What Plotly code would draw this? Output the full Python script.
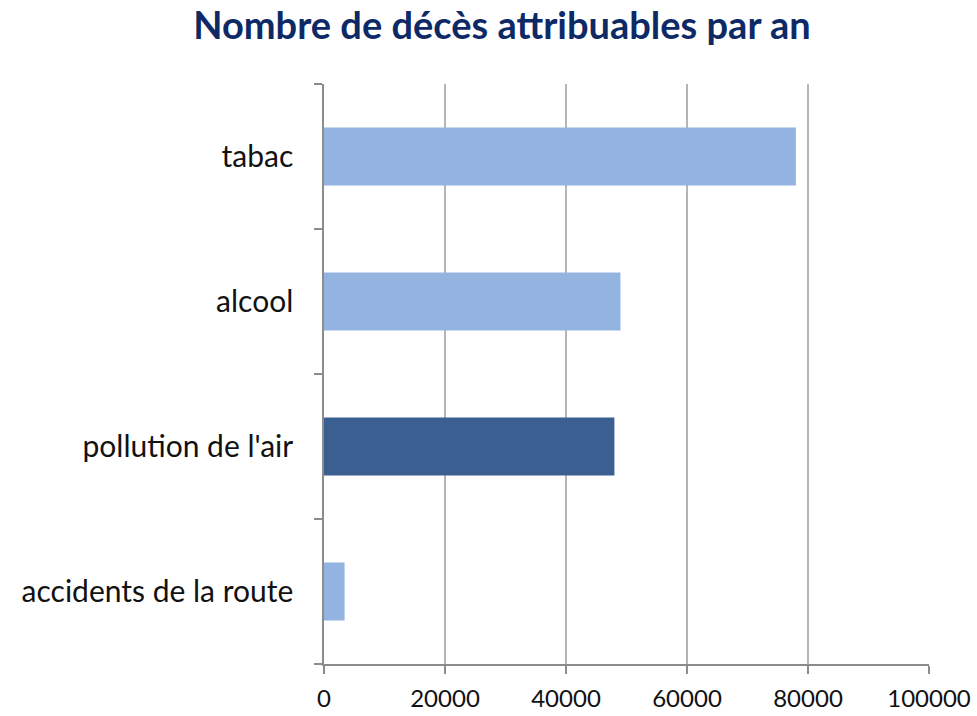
import plotly.graph_objects as go

title = "Nombre de décès attribuables par an"
categories = ["tabac", "alcool", "pollution de l'air", "accidents de la route"]
deaths = [78000, 49000, 48000, 3400]
highlight = "pollution de l'air"
x_ticks = [0, 20000, 40000, 60000, 80000, 100000]

light = "#93B4E0"
dark = "#3C5F91"
colors = [dark if c == highlight else light for c in categories]

fig = go.Figure(go.Bar(
    x=deaths, y=categories, orientation="h",
    marker=dict(color=colors, line=dict(width=0)),
))

fig.update_layout(
    width=977, height=716,
    paper_bgcolor="white", plot_bgcolor="white",
    margin=dict(l=324, r=48, t=84, b=52, autoexpand=False),
    bargap=0.6,
    showlegend=False,
    title=dict(text="<b>" + title + "</b>", x=502 / 977, xanchor="center",
               y=1 - 26 / 716, yanchor="middle",
               font=dict(family="Lato", size=38, color="#0E2A66")),
    font=dict(family="Lato", size=25, color="#111111"),
)

fig.update_xaxes(
    range=[0, 100000], tickvals=x_ticks, ticktext=[str(v) for v in x_ticks],
    showgrid=True, gridcolor="#B5B5B5", gridwidth=2,
    showline=True, linecolor="#8C8C8C", linewidth=1.5,
    ticks="outside", ticklen=8, tickcolor="#8C8C8C", tickwidth=1.5,
    zeroline=False, tickfont=dict(size=24), ticklabelstandoff=4,
)
fig.update_yaxes(
    type="category", categoryorder="array", categoryarray=categories[::-1],
    tickson="boundaries", ticks="outside", ticklen=8, tickcolor="#8C8C8C", tickwidth=1.5,
    showline=True, linecolor="#8C8C8C", linewidth=1.5,
    showgrid=False, ticklabelstandoff=23, tickfont=dict(size=30),
)

fig.write_html("out.html", config={"displayModeBar": False},
               post_script="document.body.style.margin='0';document.body.style.overflow='hidden';")
